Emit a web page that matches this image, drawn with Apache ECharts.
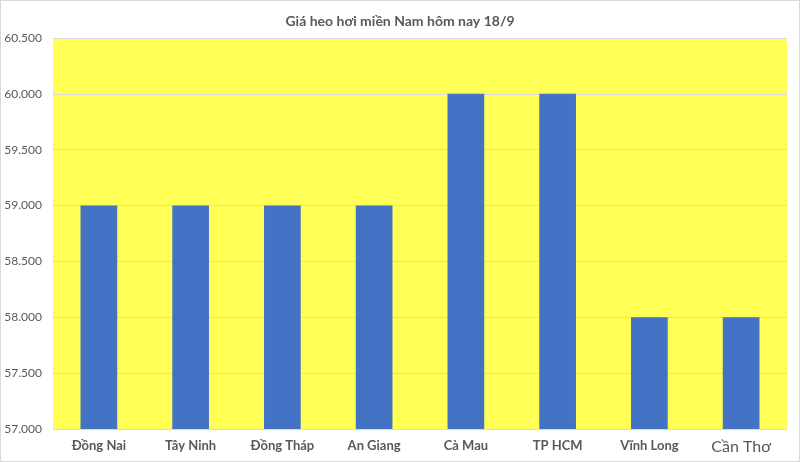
<!DOCTYPE html>
<html><head><meta charset="utf-8">
<script src="https://cdn.jsdelivr.net/npm/echarts@6/dist/echarts.min.js"></script>
<style>html,body{margin:0;padding:0;background:#fff}#c{width:800px;height:462px;box-sizing:border-box;border:1px solid #d9d9d9}</style>
</head><body><div id="c"></div>
<script>
const titleText = 'Giá heo hơi miền Nam hôm nay 18/9';
const categories = ['Đồng Nai','Tây Ninh','Đồng Tháp','An Giang','Cà Mau','TP HCM','Vĩnh Long','Cần Thơ'];
const prices = [59000,59000,59000,59000,60000,60000,58000,58000];
const yMin = 57000, yMax = 60500, yStep = 500;

const chart = echarts.init(document.getElementById('c'));
chart.setOption({
  animation:false,
  backgroundColor:'#ffffff',
  title:{text:titleText,left:'center',top:8,textStyle:{fontFamily:'Lato',fontSize:14,fontWeight:'bold',color:'#595959'}},
  grid:{left:52,right:12,top:37,bottom:32,show:true,backgroundColor:'#ffff55',borderWidth:0},
  xAxis:{type:'category',data:categories,
    axisLine:{show:true,lineStyle:{color:'#d9d9d9'}},axisTick:{show:false},
    axisLabel:{interval:0,margin:10,fontFamily:'Lato',color:'#595959',fontSize:13,fontWeight:'bold',
      formatter:(v,i)=> i===categories.length-1 ? '{big|'+v+'}' : v,
      rich:{big:{fontSize:16,fontWeight:'normal',fontFamily:'Lato',color:'#595959'}}}},
  yAxis:{type:'value',min:yMin,max:yMax,interval:yStep,
    axisLine:{show:false},axisTick:{show:false},
    splitLine:{lineStyle:{color:'#d9d9d9',width:1}},
    axisLabel:{fontFamily:'Lato',color:'#595959',fontSize:12,margin:11,
      formatter:v=>{const s=String(v);return s.slice(0,s.length-3)+'.'+s.slice(-3);}}},
  series:[{type:'bar',data:prices,barWidth:'40%',itemStyle:{color:'#4472c4'}}]
});
</script></body></html>
